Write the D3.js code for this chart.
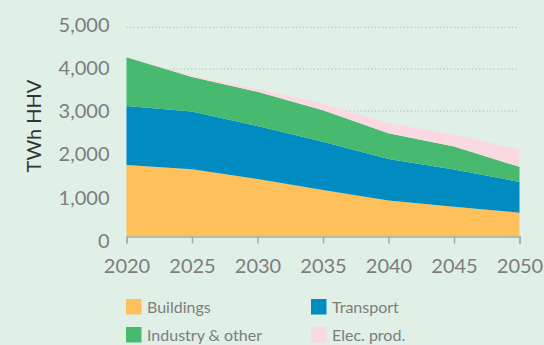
<!DOCTYPE html>
<html>
<head>
<meta charset="utf-8">
<script src="https://cdn.jsdelivr.net/npm/d3@7"></script>
<style>
  html, body { margin: 0; padding: 0; background: #e0f0e6; }
  svg { display: block; font-family: Lato, "Open Sans", sans-serif; }
</style>
</head>
<body>
<svg id="chart" width="544" height="345"></svg>
<script>
// Final energy demand by sector, TWh HHV
const years = [2020, 2025, 2030, 2035, 2040, 2045, 2050];
const buildings = [1710, 1610, 1375, 1110, 860, 710, 570];
const transport = [1410, 1375, 1265, 1155, 990, 890, 735];
const industry = [1165, 830, 820, 755, 615, 550, 360];
const elecProd = [20, 25, 65, 160, 240, 285, 420];

const seriesNames = ["Buildings", "Transport", "Industry & other", "Elec. prod."];
const seriesColors = ["#fec05a", "#008cc1", "#47ba6f", "#fbd9e3"];
const yTicks = [0, 1000, 2000, 3000, 4000, 5000];
const xTicks = [2020, 2025, 2030, 2035, 2040, 2045, 2050];

const seriesValues = [buildings, transport, industry, elecProd];
const rows = years.map((y, i) => {
  const r = { year: y };
  seriesNames.forEach((n, k) => { r[n] = seriesValues[k][i]; });
  return r;
});

const svg = d3.select("#chart");
const x = d3.scaleLinear().domain([2020, 2050]).range([126.5, 519.5]);
const y = d3.scaleLinear().domain([0, 5000]).range([236.5, 27.3]);
// tick labels sit on a slightly wider spread than the plot
const yLabel = d3.scaleLinear().domain([0, 5000]).range([240, 24]);

// dotted gridlines
svg.append("g")
  .selectAll("line")
  .data(yTicks.filter(d => d > 0))
  .join("line")
  .attr("x1", x(2020)).attr("x2", x(2050) - 2)
  .attr("y1", d => y(d)).attr("y2", d => y(d))
  .attr("stroke", "#a9b3ad")
  .attr("stroke-width", 1)
  .attr("stroke-dasharray", "1.2,2.4");

// stacked areas
const stack = d3.stack().keys(seriesNames);
const layers = stack(rows);
const area = d3.area()
  .x(d => x(d.data.year))
  .y0(d => y(d[0]))
  .y1(d => y(d[1]));

svg.append("g")
  .selectAll("path")
  .data(layers)
  .join("path")
  .attr("d", area)
  .attr("fill", (d, i) => seriesColors[i]);

// x axis
const xAxis = d3.axisBottom(x)
  .tickValues(xTicks)
  .tickFormat(d3.format("d"))
  .tickSize(7)
  .tickPadding(15);
const gx = svg.append("g")
  .attr("transform", `translate(0,${y(0)})`)
  .call(xAxis);
gx.select(".domain").attr("stroke", "#a3aca7").attr("stroke-width", 1.5);
gx.selectAll(".tick line").attr("stroke", "#a3aca7").attr("stroke-width", 1.5);
gx.selectAll("text")
  .attr("fill", "#7d7d7d")
  .attr("font-size", 20)
  .attr("font-family", "Lato, sans-serif");

// y axis labels
const yAxis = d3.axisLeft(yLabel)
  .tickValues(yTicks)
  .tickFormat(d3.format(","))
  .tickSize(0)
  .tickPadding(17);
const gy = svg.append("g")
  .attr("transform", `translate(${x(2020)},0)`)
  .call(yAxis);
gy.select(".domain").remove();
gy.selectAll("text")
  .attr("fill", "#7d7d7d")
  .attr("font-size", 20)
  .attr("dy", "0.36em")
  .attr("font-family", "Lato, sans-serif");

// y axis title
svg.append("text")
  .attr("transform", "translate(41,126) rotate(-90)")
  .attr("text-anchor", "middle")
  .attr("fill", "#333")
  .attr("font-size", 20)
  .text("TWh HHV");

// legend
const legendPos = [[126, 299], [311, 299], [126, 327], [311, 327]];
const lg = svg.append("g")
  .selectAll("g")
  .data(seriesNames)
  .join("g")
  .attr("transform", (d, i) => `translate(${legendPos[i][0]},${legendPos[i][1]})`);
lg.append("rect")
  .attr("width", 15.5).attr("height", 15.5)
  .attr("fill", (d, i) => seriesColors[i]);
lg.append("text")
  .attr("x", 21)
  .attr("y", 13.5)
  .attr("fill", "#7d7d7d")
  .attr("font-size", 16)
  .text(d => d);
</script>
</body>
</html>
